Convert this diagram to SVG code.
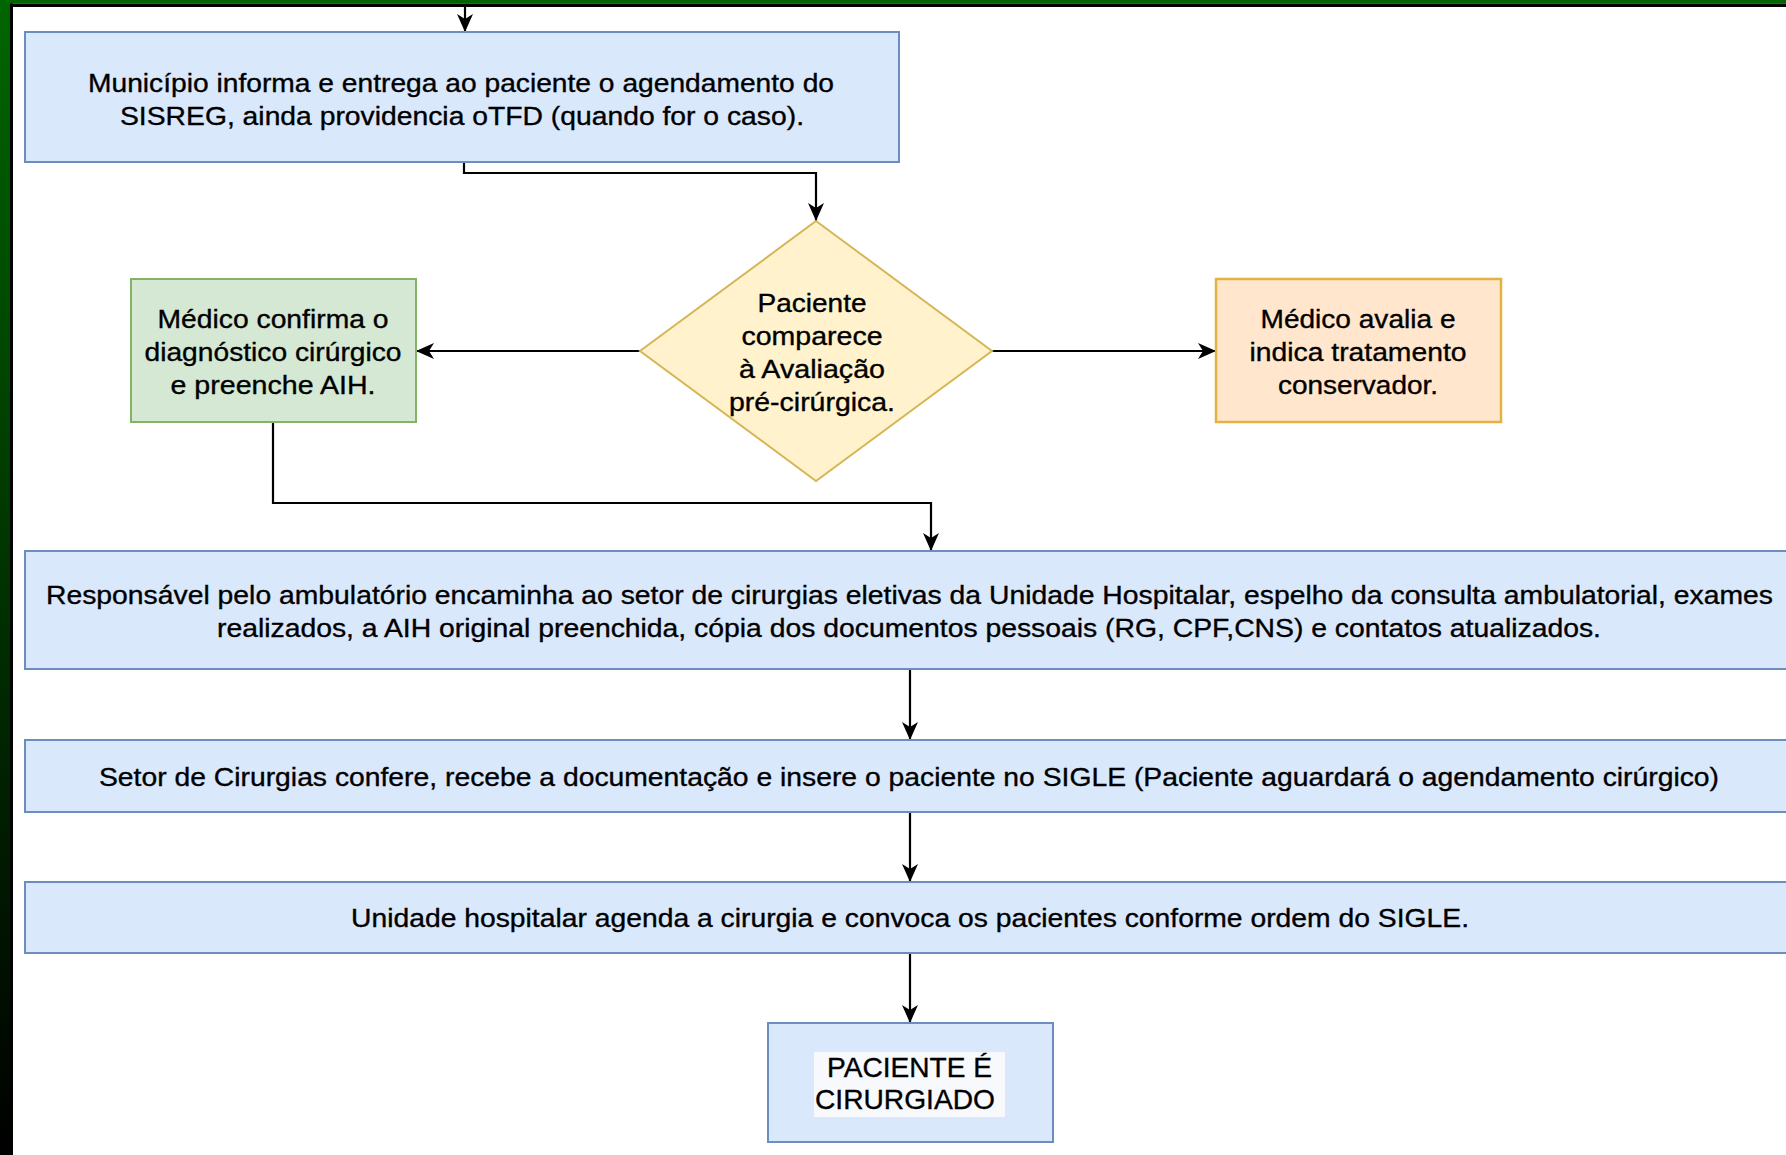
<svg xmlns="http://www.w3.org/2000/svg" width="1786" height="1155" viewBox="0 0 1786 1155">
<style>
.t{font-family:"Liberation Sans",Arial,Helvetica,sans-serif;font-size:26px;fill:#000;stroke:#000;stroke-width:0.35;text-anchor:middle}
.tb{font-size:28px}
.blue{fill:#dae8fc;stroke:#6c8ebf;stroke-width:2}
.green{fill:#d5e8d4;stroke:#82b366;stroke-width:2}
.orange{fill:#ffe6cc;stroke:#e3b341;stroke-width:2.5}
.dia{fill:#fff2cc;stroke:#d6b656;stroke-width:2}
.c{fill:none;stroke:#000;stroke-width:2.2}
</style>
<defs>
<marker id="arr" viewBox="0 0 20 20" refX="19" refY="10" markerWidth="20" markerHeight="20" markerUnits="userSpaceOnUse" orient="auto">
<path d="M1,2 L19,10 L1,18 L6,10 z" fill="#000"/>
</marker>
<linearGradient id="lg" x1="0" y1="0" x2="0" y2="1">
<stop offset="0" stop-color="#006600"/>
<stop offset="1" stop-color="#000000"/>
</linearGradient>
</defs>
<rect x="0" y="0" width="1786" height="1155" fill="#ffffff"/>
<g id="frame">
<rect x="0" y="0" width="1786" height="3.5" fill="#006400"/>
<rect x="10" y="3.5" width="1776" height="3.5" fill="#000"/>
<rect x="0" y="0" width="10" height="1155" fill="url(#lg)"/>
<rect x="10" y="3.5" width="3" height="1151.5" fill="#000"/>
</g>
<g id="connectors">
<path class="c" d="M465,7 V32" marker-end="url(#arr)"/>
<path class="c" d="M464,162 V173 H816 V221" marker-end="url(#arr)"/>
<path class="c" d="M640,351 H416" marker-end="url(#arr)"/>
<path class="c" d="M992,351 H1216" marker-end="url(#arr)"/>
<path class="c" d="M273,422 V503 H931 V551" marker-end="url(#arr)"/>
<path class="c" d="M910,669 V740" marker-end="url(#arr)"/>
<path class="c" d="M910,812 V882" marker-end="url(#arr)"/>
<path class="c" d="M910,953 V1023" marker-end="url(#arr)"/>
</g>
<g id="n-municipio">
<rect class="blue" x="25" y="32" width="874" height="130"/>
<text class="t" x="461" y="92" textLength="746" lengthAdjust="spacingAndGlyphs">Município informa e entrega ao paciente o agendamento do</text>
<text class="t" x="462" y="125" textLength="684" lengthAdjust="spacingAndGlyphs">SISREG, ainda providencia oTFD (quando for o caso).</text>
</g>
<g id="n-paciente-comparece">
<polygon class="dia" points="816,221 992,351 816,481 640,351"/>
<text class="t" x="812" y="312" textLength="109" lengthAdjust="spacingAndGlyphs">Paciente</text>
<text class="t" x="812" y="345" textLength="141" lengthAdjust="spacingAndGlyphs">comparece</text>
<text class="t" x="812" y="378" textLength="146" lengthAdjust="spacingAndGlyphs">à Avaliação</text>
<text class="t" x="812" y="411" textLength="166" lengthAdjust="spacingAndGlyphs">pré-cirúrgica.</text>
</g>
<g id="n-medico-confirma">
<rect class="green" x="131" y="279" width="285" height="143"/>
<text class="t" x="273" y="328" textLength="231" lengthAdjust="spacingAndGlyphs">Médico confirma o</text>
<text class="t" x="273" y="361" textLength="257" lengthAdjust="spacingAndGlyphs">diagnóstico cirúrgico</text>
<text class="t" x="273" y="394" textLength="205" lengthAdjust="spacingAndGlyphs">e preenche AIH.</text>
</g>
<g id="n-medico-avalia">
<rect class="orange" x="1216" y="279" width="285" height="143"/>
<text class="t" x="1358" y="328" textLength="195" lengthAdjust="spacingAndGlyphs">Médico avalia e</text>
<text class="t" x="1358" y="361" textLength="217" lengthAdjust="spacingAndGlyphs">indica tratamento</text>
<text class="t" x="1358" y="394" textLength="160" lengthAdjust="spacingAndGlyphs">conservador.</text>
</g>
<g id="n-responsavel">
<rect class="blue" x="25" y="551" width="1775" height="118"/>
<text class="t" x="909.5" y="604" textLength="1727" lengthAdjust="spacingAndGlyphs">Responsável pelo ambulatório encaminha ao setor de cirurgias eletivas da Unidade Hospitalar, espelho da consulta ambulatorial, exames</text>
<text class="t" x="909" y="637" textLength="1384" lengthAdjust="spacingAndGlyphs">realizados, a AIH original preenchida, cópia dos documentos pessoais (RG, CPF,CNS) e contatos atualizados.</text>
</g>
<g id="n-setor">
<rect class="blue" x="25" y="740" width="1775" height="72"/>
<text class="t" x="909" y="786" textLength="1620" lengthAdjust="spacingAndGlyphs">Setor de Cirurgias confere, recebe a documentação e insere o paciente no SIGLE (Paciente aguardará o agendamento cirúrgico)</text>
</g>
<g id="n-unidade">
<rect class="blue" x="25" y="882" width="1775" height="71"/>
<text class="t" x="910" y="927" textLength="1118" lengthAdjust="spacingAndGlyphs">Unidade hospitalar agenda a cirurgia e convoca os pacientes conforme ordem do SIGLE.</text>
</g>
<g id="n-cirurgiado">
<rect class="blue" x="768" y="1023" width="285" height="119"/>
<rect x="814" y="1052" width="191" height="65" fill="#f7f9fd"/>
<text class="t tb" x="909.5" y="1077" textLength="165" lengthAdjust="spacingAndGlyphs">PACIENTE É</text>
<text class="t tb" x="905" y="1109" textLength="180" lengthAdjust="spacingAndGlyphs">CIRURGIADO</text>
</g>
</svg>
